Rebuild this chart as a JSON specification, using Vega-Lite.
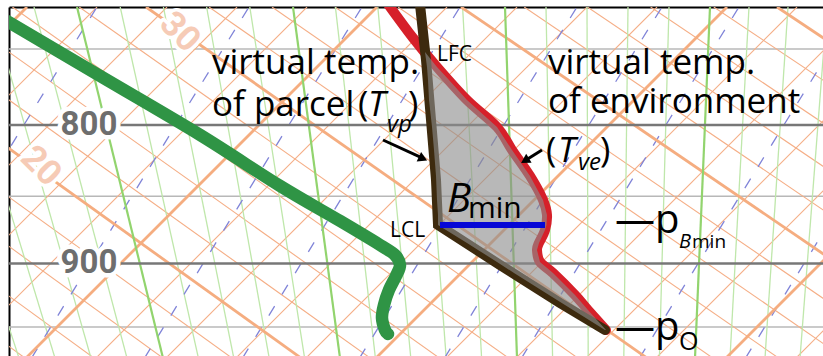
{
"$schema": "https://vega.github.io/schema/vega-lite/v6.json",
"width": 814, "height": 349,
"autosize": {"type": "none"},
"padding": {"left": 9, "top": 7, "right": 0, "bottom": 0},
"background": "white",
"config": {"view": {"stroke": null}, "axis": {"labels": false, "ticks": false, "grid": false, "domainColor": "#000", "domainWidth": 2, "titleOpacity": 0, "zindex": 1}},
"datasets": {
"isoThin": [
{"id":"t1","x":9.7,"p":723.6},{"id":"t1","x":-25.4,"p":975.5},
{"id":"t2","x":16.7,"p":723.6},{"id":"t2","x":-18.4,"p":975.5},
{"id":"t3","x":23.7,"p":723.6},{"id":"t3","x":-11.4,"p":975.5},
{"id":"t4","x":30.7,"p":723.6},{"id":"t4","x":-4.4,"p":975.5},
{"id":"t5","x":44.7,"p":723.6},{"id":"t5","x":9.6,"p":975.5},
{"id":"t6","x":51.7,"p":723.6},{"id":"t6","x":16.6,"p":975.5},
{"id":"t7","x":58.7,"p":723.6},{"id":"t7","x":23.6,"p":975.5},
{"id":"t8","x":65.7,"p":723.6},{"id":"t8","x":30.6,"p":975.5},
{"id":"t9","x":79.7,"p":723.6},{"id":"t9","x":44.6,"p":975.5},
{"id":"t10","x":86.7,"p":723.6},{"id":"t10","x":51.6,"p":975.5},
{"id":"t11","x":93.7,"p":723.6},{"id":"t11","x":58.6,"p":975.5},
{"id":"t12","x":100.7,"p":723.6},{"id":"t12","x":65.6,"p":975.5},
{"id":"t13","x":114.7,"p":723.6},{"id":"t13","x":79.6,"p":975.5}
],
"isoThick": [
{"id":"T1","x":2.7,"p":723.6},{"id":"T1","x":-32.4,"p":975.5},
{"id":"T2","x":37.7,"p":723.6},{"id":"T2","x":2.6,"p":975.5},
{"id":"T3","x":72.7,"p":723.6},{"id":"T3","x":37.6,"p":975.5},
{"id":"T4","x":107.7,"p":723.6},{"id":"T4","x":72.6,"p":975.5}
],
"adThin": [
{"id":"a1","x":-45.44,"p":723.6},{"id":"a1","x":2.5,"p":975.5},
{"id":"a2","x":-38.78,"p":723.6},{"id":"a2","x":9.4,"p":975.5},
{"id":"a3","x":-32.12,"p":723.6},{"id":"a3","x":16.3,"p":975.5},
{"id":"a4","x":-25.46,"p":723.6},{"id":"a4","x":23.2,"p":975.5},
{"id":"a5","x":-12.12,"p":723.6},{"id":"a5","x":37.02,"p":975.5},
{"id":"a6","x":-5.44,"p":723.6},{"id":"a6","x":43.94,"p":975.5},
{"id":"a7","x":1.24,"p":723.6},{"id":"a7","x":50.86,"p":975.5},
{"id":"a8","x":7.92,"p":723.6},{"id":"a8","x":57.78,"p":975.5},
{"id":"a9","x":20.9,"p":723.6},{"id":"a9","x":71.28,"p":975.5},
{"id":"a10","x":27.2,"p":723.6},{"id":"a10","x":77.86,"p":975.5},
{"id":"a11","x":33.5,"p":723.6},{"id":"a11","x":84.44,"p":975.5},
{"id":"a12","x":39.8,"p":723.6},{"id":"a12","x":91.02,"p":975.5},
{"id":"a13","x":52.42,"p":723.6},{"id":"a13","x":104.14,"p":975.5},
{"id":"a14","x":58.74,"p":723.6},{"id":"a14","x":110.68,"p":975.5},
{"id":"a15","x":65.06,"p":723.6},{"id":"a15","x":117.22,"p":975.5},
{"id":"a16","x":71.38,"p":723.6},{"id":"a16","x":123.76,"p":975.5}
],
"adThick": [
{"id":"A1","x":-52.1,"p":723.6},{"id":"A1","x":-4.4,"p":975.5},
{"id":"A2","x":-18.8,"p":723.6},{"id":"A2","x":30.1,"p":975.5},
{"id":"A3","x":14.6,"p":723.6},{"id":"A3","x":64.7,"p":975.5},
{"id":"A4","x":46.1,"p":723.6},{"id":"A4","x":97.6,"p":975.5},
{"id":"A5","x":77.7,"p":723.6},{"id":"A5","x":130.3,"p":975.5}
],
"moistThin": [
{"id":"m1","x":3.4,"p":723.6},{"id":"m1","x":12.7,"p":975.5},
{"id":"m2","x":-0.9,"p":723.6},{"id":"m2","x":9.1,"p":975.5},
{"id":"m3","x":-5.2,"p":723.6},{"id":"m3","x":5.5,"p":975.5},
{"id":"m4","x":-9.5,"p":723.6},{"id":"m4","x":1.9,"p":975.5},
{"id":"m5","x":12.02,"p":723.6},{"id":"m5","x":19.84,"p":975.5},
{"id":"m6","x":16.34,"p":723.6},{"id":"m6","x":23.38,"p":975.5},
{"id":"m7","x":20.66,"p":723.6},{"id":"m7","x":26.92,"p":975.5},
{"id":"m8","x":24.98,"p":723.6},{"id":"m8","x":30.46,"p":975.5},
{"id":"m9","x":33.54,"p":723.6},{"id":"m9","x":37.54,"p":975.5},
{"id":"m10","x":37.78,"p":723.6},{"id":"m10","x":41.08,"p":975.5},
{"id":"m11","x":42.02,"p":723.6},{"id":"m11","x":44.62,"p":975.5},
{"id":"m12","x":46.26,"p":723.6},{"id":"m12","x":48.16,"p":975.5},
{"id":"m13","x":54.6,"p":723.6},{"id":"m13","x":55.26,"p":975.5},
{"id":"m14","x":58.7,"p":723.6},{"id":"m14","x":58.82,"p":975.5},
{"id":"m15","x":62.8,"p":723.6},{"id":"m15","x":62.38,"p":975.5},
{"id":"m16","x":66.9,"p":723.6},{"id":"m16","x":65.94,"p":975.5},
{"id":"m17","x":74.9,"p":723.6},{"id":"m17","x":73.0,"p":975.5},
{"id":"m18","x":78.8,"p":723.6},{"id":"m18","x":76.5,"p":975.5},
{"id":"m19","x":82.7,"p":723.6},{"id":"m19","x":80.0,"p":975.5}
],
"moistThick": [
{"id":"M1","x":7.7,"p":723.6},{"id":"M1","x":16.3,"p":975.5},
{"id":"M2","x":29.3,"p":723.6},{"id":"M2","x":34.0,"p":975.5},
{"id":"M3","x":50.5,"p":723.6},{"id":"M3","x":51.7,"p":975.5},
{"id":"M4","x":71.0,"p":723.6},{"id":"M4","x":69.5,"p":975.5}
],
"mixr": [
{"id":"r1","x":9.7,"p":723.6},{"id":"r1","x":-12.05,"p":975.5},
{"id":"r2","x":24.9,"p":723.6},{"id":"r2","x":3.15,"p":975.5},
{"id":"r3","x":36.2,"p":723.6},{"id":"r3","x":14.45,"p":975.5},
{"id":"r4","x":46.0,"p":723.6},{"id":"r4","x":24.25,"p":975.5},
{"id":"r5","x":57.7,"p":723.6},{"id":"r5","x":35.95,"p":975.5},
{"id":"r6","x":66.2,"p":723.6},{"id":"r6","x":44.45,"p":975.5},
{"id":"r7","x":73.9,"p":723.6},{"id":"r7","x":52.15,"p":975.5},
{"id":"r8","x":85.7,"p":723.6},{"id":"r8","x":63.95,"p":975.5},
{"id":"r9","x":96.3,"p":723.6},{"id":"r9","x":74.55,"p":975.5}
],
"dew": [
{"i":0,"x":0.0,"p":729.7},{"i":1,"x":10.0,"p":767.3},{"i":2,"x":20.0,"p":806.8},{"i":3,"x":28.0,"p":842.6},
{"i":4,"x":34.0,"p":868.1},{"i":5,"x":38.0,"p":886.0},{"i":6,"x":39.5,"p":893.6},{"i":7,"x":40.0,"p":901.2},
{"i":8,"x":39.6,"p":909.7},{"i":9,"x":38.9,"p":920.6},{"i":10,"x":38.4,"p":932.4},{"i":11,"x":38.2,"p":942.8},
{"i":12,"x":38.5,"p":952.5},{"i":13,"x":38.8,"p":955.7}
],
"env": [
{"i":0,"x":38.5,"p":719.3},{"i":1,"x":41.3,"p":742.9},{"i":2,"x":43.7,"p":761.5},{"i":3,"x":46.7,"p":783.2},
{"i":4,"x":49.7,"p":801.4},{"i":5,"x":51.2,"p":817.2},{"i":6,"x":53.0,"p":835.5},{"i":7,"x":54.3,"p":852.7},
{"i":8,"x":54.7,"p":863.7},{"i":9,"x":54.5,"p":874.8},{"i":10,"x":53.9,"p":884.5},{"i":11,"x":53.7,"p":889.8},
{"i":12,"x":54.0,"p":898.9},{"i":13,"x":55.3,"p":907.4},{"i":14,"x":57.5,"p":924.5},{"i":15,"x":58.8,"p":936.4},
{"i":16,"x":60.6,"p":952.5}
],
"parcel": [
{"i":0,"x":41.95,"p":719.3},{"i":1,"x":42.6,"p":756.9},{"i":2,"x":43.1,"p":796.6},{"i":3,"x":43.6,"p":838.3},
{"i":4,"x":43.8,"p":871.1},{"i":5,"x":50.0,"p":901.2},{"i":6,"x":56.0,"p":930.9},{"i":7,"x":60.5,"p":952.5}
],
"buoy": [
{"p":751.8,"xl":42.5,"xr":42.5},{"p":761.5,"xl":42.7,"xr":43.7},{"p":769.9,"xl":42.8,"xr":44.9},
{"p":783.2,"xl":42.9,"xr":46.7},{"p":801.4,"xl":43.2,"xr":49.7},{"p":817.2,"xl":43.4,"xr":51.2},
{"p":835.5,"xl":43.6,"xr":53.0},{"p":852.7,"xl":43.7,"xr":54.3},{"p":863.7,"xl":43.8,"xr":54.7},
{"p":871.1,"xl":43.8,"xr":54.65},{"p":874.8,"xl":44.6,"xr":54.5},{"p":884.5,"xl":46.7,"xr":53.9},
{"p":889.8,"xl":47.8,"xr":53.7},{"p":898.9,"xl":49.7,"xr":54.0},{"p":907.4,"xl":51.4,"xr":55.3},
{"p":924.5,"xl":54.9,"xr":57.5},{"p":936.4,"xl":57.3,"xr":58.8},{"p":952.5,"xl":60.5,"xr":60.6}
],
"shafts": [
{"id":"s1","x":38.3,"p":810.3},{"id":"s1","x":42.2,"p":822.8},
{"id":"s2","x":54.2,"p":817.2},{"id":"s2","x":52.6,"p":824.2}
]
},
"layer": [
{"data":{"values":[{"p":750},{"p":850},{"p":950}]},"mark":{"type":"rule","stroke":"#b8b8b8","strokeWidth":1.5},
 "encoding":{"y":{"field":"p","type":"quantitative","scale":{"type":"log","domain":[723.6,973.8],"reverse":true,"nice":false,"zero":false},"axis":{"orient":"left"}}}},
{"data":{"name":"isoThin"},"mark":{"type":"line","stroke":"#f5ae86","strokeWidth":1.1,"clip":true},
 "encoding":{"x":{"field":"x","type":"quantitative","scale":{"domain":[0.9,82.3],"nice":false,"zero":false},"axis":{"orient":"top"}},"y":{"field":"p","type":"quantitative"},"detail":{"field":"id"}}},
{"data":{"name":"adThin"},"mark":{"type":"line","stroke":"#f5ae86","strokeWidth":1.1,"clip":true},
 "encoding":{"x":{"field":"x","type":"quantitative"},"y":{"field":"p","type":"quantitative"},"detail":{"field":"id"}}},
{"data":{"name":"moistThin"},"mark":{"type":"line","stroke":"#bfe7ab","strokeWidth":1.3,"clip":true},
 "encoding":{"x":{"field":"x","type":"quantitative"},"y":{"field":"p","type":"quantitative"},"detail":{"field":"id"}}},
{"data":{"name":"mixr"},"mark":{"type":"line","stroke":"#8084d8","strokeWidth":1.3,"strokeDash":[11,14],"clip":true},
 "encoding":{"x":{"field":"x","type":"quantitative"},"y":{"field":"p","type":"quantitative"},"detail":{"field":"id"}}},
{"data":{"name":"isoThick"},"mark":{"type":"line","stroke":"#f5ad80","strokeWidth":2.8,"clip":true},
 "encoding":{"x":{"field":"x","type":"quantitative"},"y":{"field":"p","type":"quantitative"},"detail":{"field":"id"}}},
{"data":{"name":"adThick"},"mark":{"type":"line","stroke":"#f5ad80","strokeWidth":2.8,"clip":true},
 "encoding":{"x":{"field":"x","type":"quantitative"},"y":{"field":"p","type":"quantitative"},"detail":{"field":"id"}}},
{"data":{"name":"moistThick"},"mark":{"type":"line","stroke":"#92d46e","strokeWidth":2.2,"clip":true},
 "encoding":{"x":{"field":"x","type":"quantitative"},"y":{"field":"p","type":"quantitative"},"detail":{"field":"id"}}},
{"data":{"values":[{"p":800},{"p":900}]},"mark":{"type":"rule","stroke":"#777777","strokeWidth":2.5},
 "encoding":{"y":{"field":"p","type":"quantitative"}}},
{"data":{"values":[{"t":"800","x":8.9,"p":800},{"t":"900","x":8.9,"p":900}]},
 "mark":{"type":"text","font":"Roboto","fontWeight":"bold","fontSize":33,"align":"center","baseline":"middle","fill":"white","stroke":"white","strokeWidth":9,"strokeJoin":"round"},
 "encoding":{"x":{"field":"x","type":"quantitative"},"y":{"field":"p","type":"quantitative"},"text":{"field":"t"}}},
{"data":{"values":[{"t":"800","x":8.9,"p":800},{"t":"900","x":8.9,"p":900}]},
 "mark":{"type":"text","font":"Roboto","fontWeight":"bold","fontSize":33,"align":"center","baseline":"middle","fill":"#6e6e6e"},
 "encoding":{"x":{"field":"x","type":"quantitative"},"y":{"field":"p","type":"quantitative"},"text":{"field":"t"}}},
{"data":{"values":[{"t":"30","x":18.0,"p":739.1},{"t":"20","x":4.1,"p":828.4}]},
 "mark":{"type":"text","font":"Roboto","fontWeight":"bold","fontSize":35,"align":"center","baseline":"middle","angle":45,"fill":"white","stroke":"white","strokeWidth":7,"strokeJoin":"round","clip":true},
 "encoding":{"x":{"field":"x","type":"quantitative"},"y":{"field":"p","type":"quantitative"},"text":{"field":"t"}}},
{"data":{"values":[{"t":"30","x":18.0,"p":739.1},{"t":"20","x":4.1,"p":828.4}]},
 "mark":{"type":"text","font":"Roboto","fontWeight":"bold","fontSize":35,"align":"center","baseline":"middle","angle":45,"fill":"#f6cbb6","clip":true},
 "encoding":{"x":{"field":"x","type":"quantitative"},"y":{"field":"p","type":"quantitative"},"text":{"field":"t"}}},
{"data":{"name":"dew"},"mark":{"type":"line","stroke":"#2f9445","strokeWidth":12.5,"strokeCap":"round","strokeJoin":"round","interpolate":"cardinal","clip":true},
 "encoding":{"x":{"field":"x","type":"quantitative"},"y":{"field":"p","type":"quantitative"},"order":{"field":"i"}}},
{"data":{"name":"env"},"mark":{"type":"line","stroke":"#d6202a","strokeWidth":10,"strokeCap":"round","strokeJoin":"round","interpolate":"cardinal","clip":true},
 "encoding":{"x":{"field":"x","type":"quantitative"},"y":{"field":"p","type":"quantitative"},"order":{"field":"i"}}},
{"data":{"name":"parcel"},"mark":{"type":"line","stroke":"#3d2a0e","strokeWidth":10,"strokeCap":"round","strokeJoin":"miter","clip":true},
 "encoding":{"x":{"field":"x","type":"quantitative"},"y":{"field":"p","type":"quantitative"},"order":{"field":"i"}}},
{"data":{"name":"buoy"},"mark":{"type":"area","orient":"horizontal","fill":"#8c8c8c","opacity":0.62,"clip":true},
 "encoding":{"y":{"field":"p","type":"quantitative"},"x":{"field":"xl","type":"quantitative"},"x2":{"field":"xr"}}},
{"data":{"values":[{"x1":44.0,"x2":54.5,"p":871.1}]},"mark":{"type":"rule","stroke":"#0707d6","strokeWidth":6},
 "encoding":{"x":{"field":"x1","type":"quantitative"},"x2":{"field":"x2"},"y":{"field":"p","type":"quantitative"}}},
{"data":{"name":"shafts"},"mark":{"type":"line","stroke":"#000","strokeWidth":3},
 "encoding":{"x":{"field":"x","type":"quantitative"},"y":{"field":"p","type":"quantitative"},"detail":{"field":"id"}}},
{"data":{"values":[{"x":42.3,"p":823.3,"a":25},{"x":52.5,"p":824.6,"a":149}]},
 "mark":{"type":"point","shape":"triangle-right","filled":true,"fill":"#000","size":110,"opacity":1},
 "encoding":{"x":{"field":"x","type":"quantitative"},"y":{"field":"p","type":"quantitative"},"angle":{"field":"a","type":"quantitative","scale":null}}},
{"data":{"values":[
 {"t":"virtual temp.","x":21.2,"p":766.0},{"t":"of parcel","x":21.2,"p":793.9},{"t":"(","x":35.8,"p":793.9},
 {"t":"virtual temp.","x":54.8,"p":766.0},{"t":"of environment","x":54.8,"p":791.9},
 {"t":"(","x":54.6,"p":825.6},{"t":")","x":40.8,"p":793.9},{"t":")","x":60.0,"p":825.6}]},
 "mark":{"type":"text","font":"Open Sans","fontSize":35,"align":"left","baseline":"alphabetic","fill":"#000"},
 "encoding":{"x":{"field":"x","type":"quantitative"},"y":{"field":"p","type":"quantitative"},"text":{"field":"t"}}},
{"data":{"values":[{"t":"T","x":36.8,"p":793.9},{"t":"T","x":55.8,"p":825.6}]},
 "mark":{"type":"text","font":"Open Sans","fontSize":35,"fontStyle":"italic","align":"left","baseline":"alphabetic","fill":"#000"},
 "encoding":{"x":{"field":"x","type":"quantitative"},"y":{"field":"p","type":"quantitative"},"text":{"field":"t"}}},
{"data":{"values":[{"t":"vp","x":38.7,"p":804.5},{"t":"ve","x":57.8,"p":831.2}]},
 "mark":{"type":"text","font":"Open Sans","fontSize":24,"fontStyle":"italic","align":"left","baseline":"alphabetic","fill":"#000"},
 "encoding":{"x":{"field":"x","type":"quantitative"},"y":{"field":"p","type":"quantitative"},"text":{"field":"t"}}},
{"data":{"values":[{"t":"B","x":44.7,"p":861.5}]},
 "mark":{"type":"text","font":"Open Sans","fontSize":40,"fontStyle":"italic","align":"left","baseline":"alphabetic","fill":"#000"},
 "encoding":{"x":{"field":"x","type":"quantitative"},"y":{"field":"p","type":"quantitative"},"text":{"field":"t"}}},
{"data":{"values":[{"t":"min","x":46.8,"p":865.9}]},
 "mark":{"type":"text","font":"Open Sans","fontSize":30,"align":"left","baseline":"alphabetic","fill":"#000"},
 "encoding":{"x":{"field":"x","type":"quantitative"},"y":{"field":"p","type":"quantitative"},"text":{"field":"t"}}},
{"data":{"values":[{"t":"LFC","x":43.7,"p":757.5},{"t":"LCL","x":39.0,"p":880.0}]},
 "mark":{"type":"text","font":"Open Sans","fontSize":21,"align":"left","baseline":"alphabetic","fill":"#000"},
 "encoding":{"x":{"field":"x","type":"quantitative"},"y":{"field":"p","type":"quantitative"},"text":{"field":"t"}}},
{"data":{"values":[{"t":"—p","x":61.5,"p":877.0},{"t":"—p","x":61.5,"p":960.6}]},
 "mark":{"type":"text","font":"Open Sans","fontSize":40,"align":"left","baseline":"alphabetic","fill":"#000"},
 "encoding":{"x":{"field":"x","type":"quantitative"},"y":{"field":"p","type":"quantitative"},"text":{"field":"t"}}},
{"data":{"values":[{"t":"B","x":67.9,"p":888.3}]},
 "mark":{"type":"text","font":"Open Sans","fontSize":20,"fontStyle":"italic","align":"left","baseline":"alphabetic","fill":"#000"},
 "encoding":{"x":{"field":"x","type":"quantitative"},"y":{"field":"p","type":"quantitative"},"text":{"field":"t"}}},
{"data":{"values":[{"t":"min","x":69.2,"p":888.3}]},
 "mark":{"type":"text","font":"Open Sans","fontSize":19,"align":"left","baseline":"alphabetic","fill":"#000"},
 "encoding":{"x":{"field":"x","type":"quantitative"},"y":{"field":"p","type":"quantitative"},"text":{"field":"t"}}},
{"data":{"values":[{"t":"O","x":67.9,"p":968.8}]},
 "mark":{"type":"text","font":"Open Sans","fontSize":25,"align":"left","baseline":"alphabetic","fill":"#000"},
 "encoding":{"x":{"field":"x","type":"quantitative"},"y":{"field":"p","type":"quantitative"},"text":{"field":"t"}}}
]
}
